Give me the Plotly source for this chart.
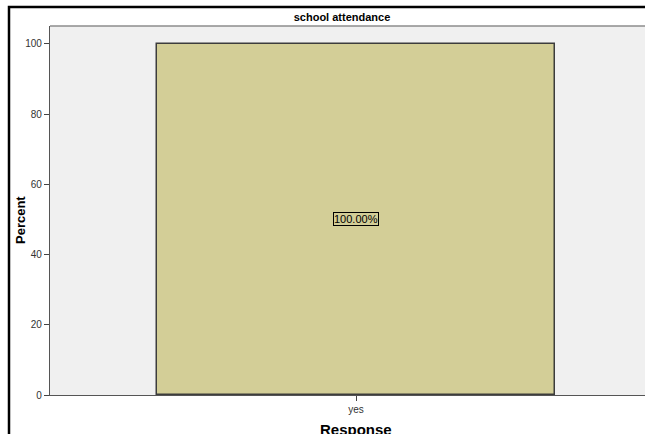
import plotly.graph_objects as go

categories = ["yes"]
percent = [100.0]
labels = ["100.00%"]
y_ticks = [0, 20, 40, 60, 80, 100]

W, H = 645, 434
ML, MR, MT, MB = 50, 0, 26, 39
plot_w = W - ML - MR
plot_h = H - MT - MB

fig = go.Figure()
fig.add_trace(go.Bar(
    x=categories, y=percent, width=0.65,
    marker=dict(color="#D3CE97", line=dict(color="#3C3C3C", width=1.5)),
    hoverinfo="skip",
))

for c, v, t in zip(categories, percent, labels):
    fig.add_annotation(
        x=c, y=v / 2, text=t, showarrow=False,
        font=dict(family="Liberation Sans, Arial", size=11, color="#000"),
        bgcolor="#D3CE97", bordercolor="#000", borderwidth=1, borderpad=0,
    )

fx = lambda px: (px - ML) / plot_w
fy = lambda py: 1 + (MT - py) / plot_h

# outer frame as a rect whose right/bottom sides lie outside the window
fig.add_shape(type="rect", xref="paper", yref="paper",
              x0=fx(9), x1=fx(760), y0=fy(560), y1=fy(7),
              line=dict(color="#000", width=2.5), fillcolor="rgba(0,0,0,0)")
# plot top border
fig.add_shape(type="line", xref="paper", yref="paper",
              x0=0, x1=fx(700), y0=1, y1=1,
              line=dict(color="#8C8C8C", width=1.5))

# axis titles
fig.add_annotation(xref="paper", yref="paper", x=fx(20), y=fy(220),
                   text="<b>Percent</b>", textangle=-90, showarrow=False,
                   xanchor="center", yanchor="middle",
                   font=dict(family="Liberation Sans, Arial", size=13, color="#000"))
fig.add_annotation(xref="paper", yref="paper", x=fx(356), y=fy(429),
                   text="<b>Response</b>", showarrow=False,
                   xanchor="center", yanchor="middle",
                   font=dict(family="Liberation Sans, Arial", size=15, color="#000"))

fig.update_layout(
    width=W, height=H,
    margin=dict(l=ML, r=MR, t=MT, b=MB),
    paper_bgcolor="#FFFFFF", plot_bgcolor="#F0F0F0",
    showlegend=False, bargap=0,
    title=dict(text="<b>school attendance</b>", xref="paper", x=fx(342),
               xanchor="center", yref="container",
               y=1 - 17 / H, yanchor="middle",
               font=dict(family="Liberation Sans, Arial", size=11, color="#000")),
    font=dict(family="Liberation Sans, Arial"),
    xaxis=dict(
        range=[-0.5, 0.472], showgrid=False, zeroline=False,
        showline=True, linecolor="#555", linewidth=1.2,
        ticks="outside", ticklen=5, tickcolor="#444", tickwidth=1,
        tickfont=dict(size=10, color="#333"),
    ),
    yaxis=dict(
        range=[0, 105.1], showgrid=False, zeroline=False,
        tickvals=y_ticks, ticktext=[str(v) for v in y_ticks],
        showline=True, linecolor="#555", linewidth=1.2,
        ticks="outside", ticklen=5, tickcolor="#444", tickwidth=1,
        tickfont=dict(size=10, color="#333"),
    ),
)

fig.write_html(
    "out.html",
    config={"displayModeBar": False},
    post_script="document.body.style.margin='0';document.body.style.overflow='hidden';",
)
